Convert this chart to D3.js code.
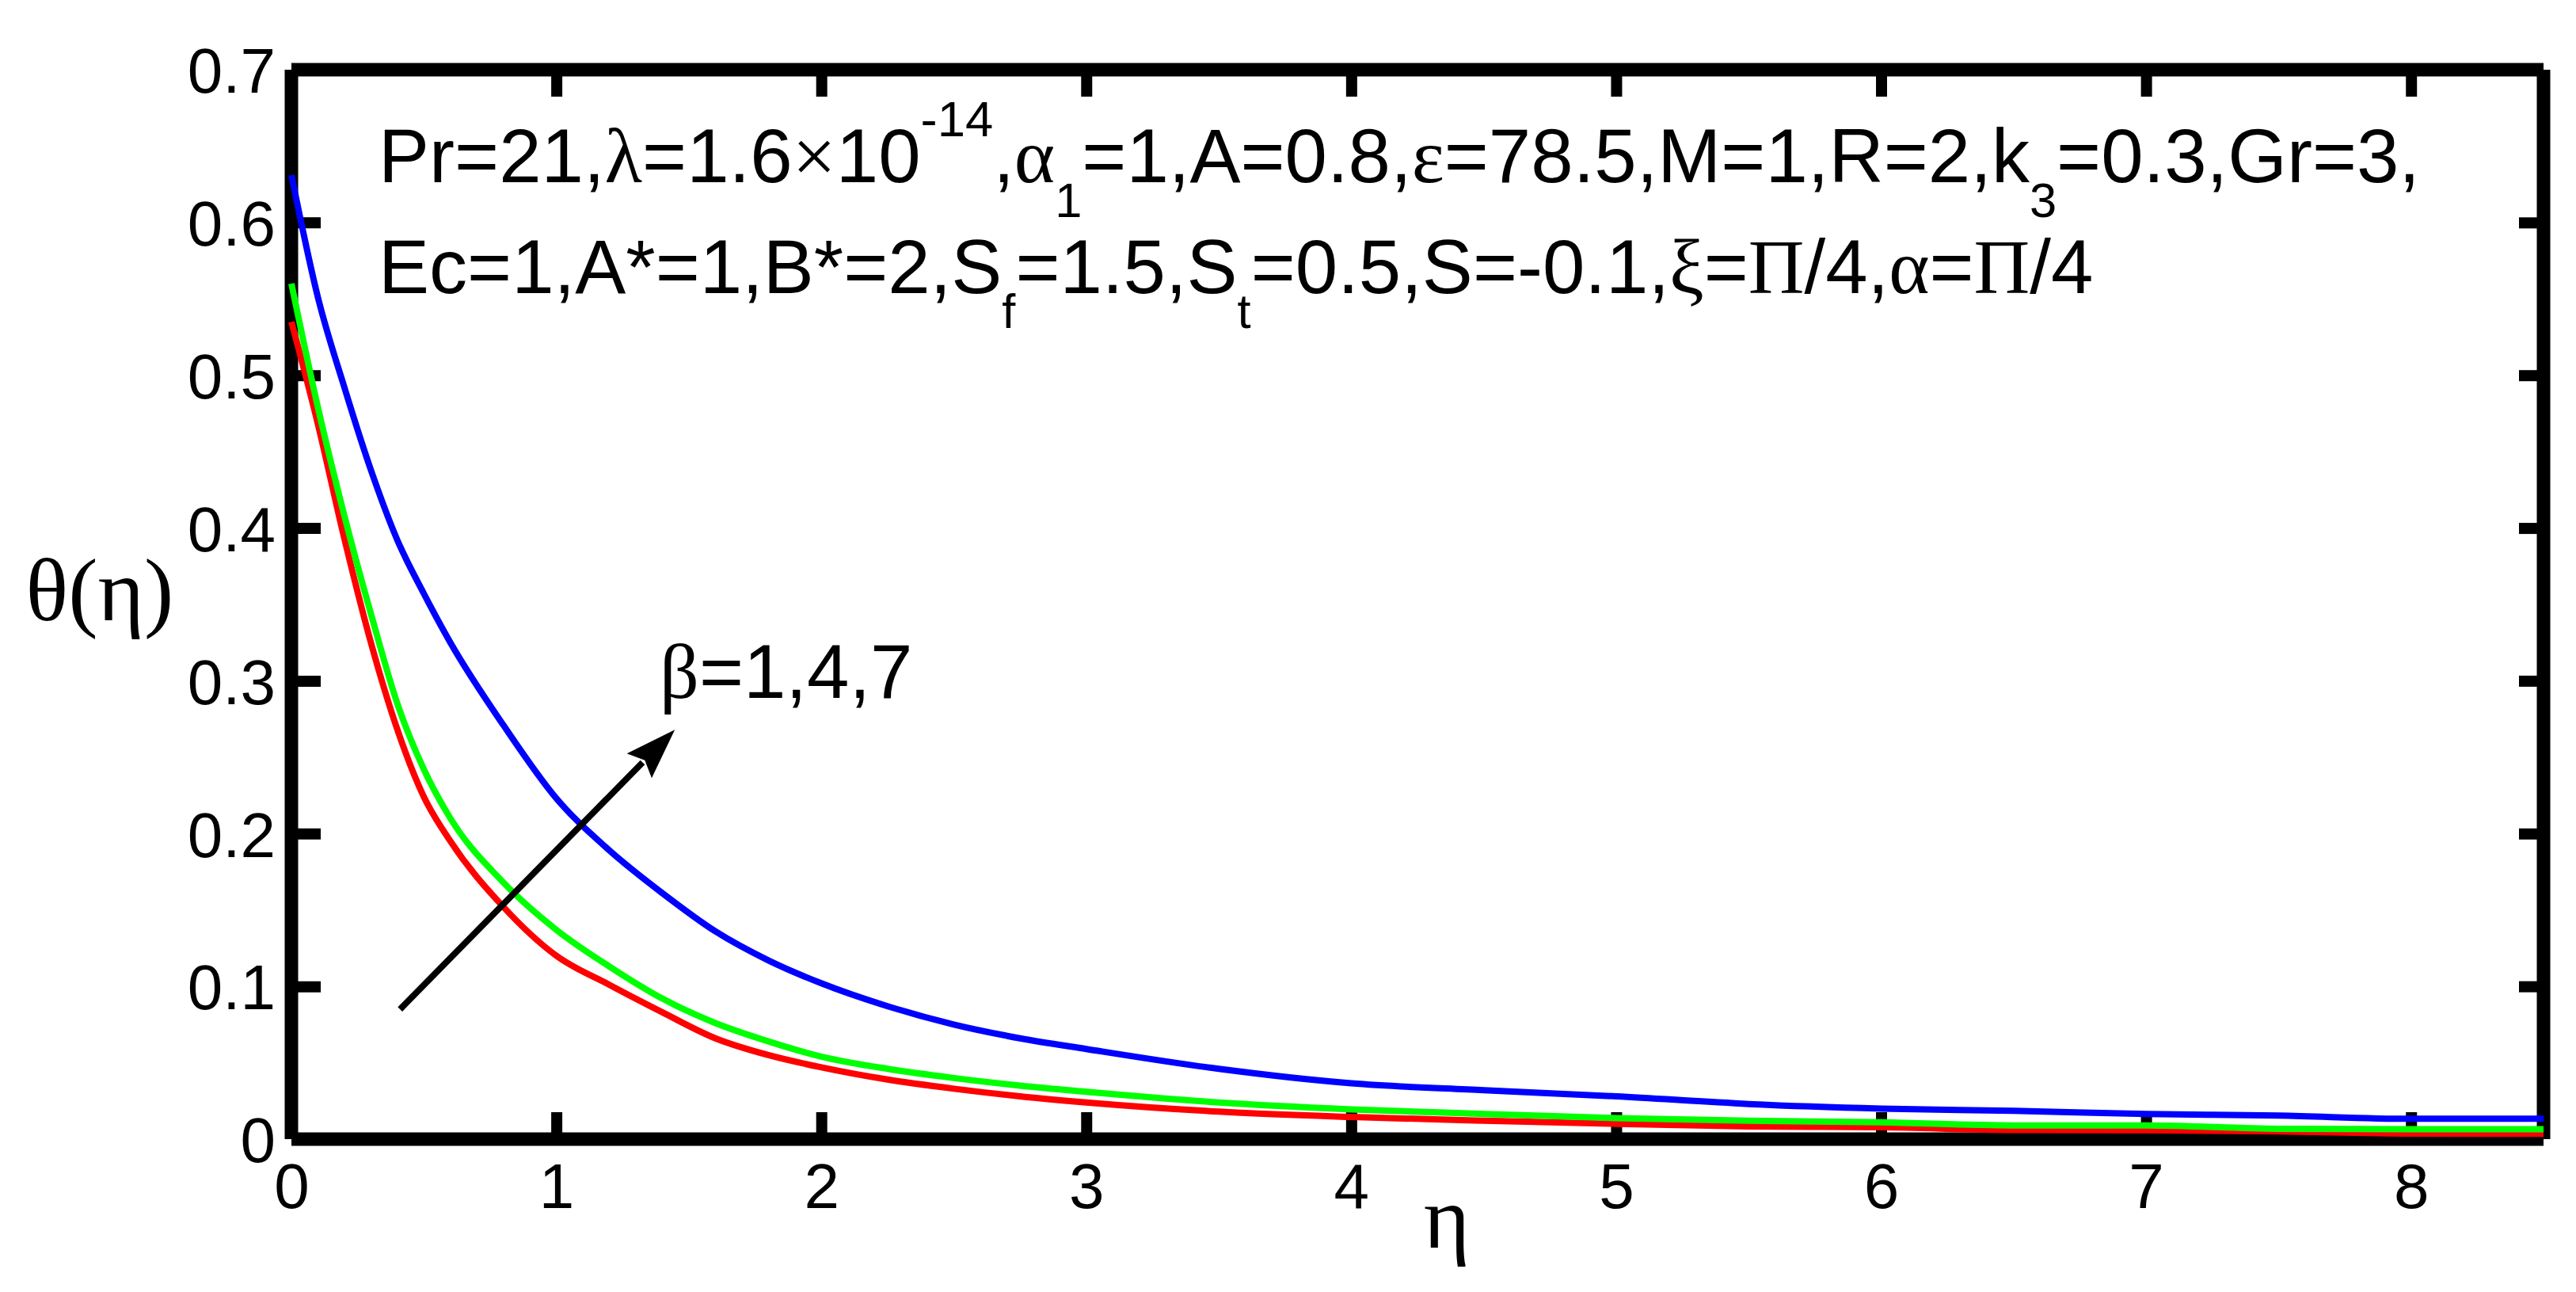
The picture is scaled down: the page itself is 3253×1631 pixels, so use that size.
<!DOCTYPE html>
<html><head><meta charset="utf-8">
<script src="https://cdn.jsdelivr.net/npm/d3@7/dist/d3.min.js"></script>
<style>body{margin:0;background:#fff;}svg{display:block;}</style>
</head><body>
<svg id="chart" width="3253" height="1631"></svg>
<script>
// ---------- data ----------
const eta = [0,0.1,0.2,0.3,0.4,0.5,0.6,0.8,1.0,1.2,1.4,1.6,1.8,2.0,2.25,2.5,2.75,3.0,3.5,4.0,4.5,5.0,5.5,6.0,6.5,7.0,7.5,8.0,8.5];
// beta = 1 (red)
const thetaBeta1 = [0.535,0.468,0.393,0.325,0.268,0.224,0.195,0.152,0.120,0.101,0.083,0.066,0.055,0.047,0.039,0.033,0.028,0.024,0.018,0.0145,0.012,0.010,0.0083,0.0078,0.006,0.0058,0.005,0.0036,0.0035];
// beta = 4 (green)
const thetaBeta4 = [0.560,0.479,0.408,0.344,0.285,0.242,0.210,0.168,0.137,0.113,0.092,0.076,0.064,0.054,0.046,0.040,0.035,0.031,0.024,0.0195,0.0165,0.0137,0.012,0.011,0.009,0.009,0.0068,0.0065,0.0065];
// beta = 7 (blue)
const thetaBeta7 = [0.631,0.551,0.492,0.438,0.392,0.357,0.325,0.271,0.223,0.189,0.161,0.136,0.117,0.102,0.087,0.075,0.066,0.059,0.046,0.0365,0.032,0.028,0.023,0.020,0.0185,0.0165,0.0154,0.0133,0.0133];

const seriesNames = ["beta1","beta4","beta7"];
const seriesColors = ["#ff0000","#00ff00","#0000ff"];

const xTicks = [0,1,2,3,4,5,6,7,8];
const xTickLabels = ["0","1","2","3","4","5","6","7","8"];
const yTicks = [0,0.1,0.2,0.3,0.4,0.5,0.6,0.7];
const yTickLabels = ["0","0.1","0.2","0.3","0.4","0.5","0.6","0.7"];

const xDomain = [0,8.5];
const yDomain = [0,0.7];

// annotation text pieces: [text, kind]  kind: s=sans, g=greek(serif), sup, sub
const line1 = [["Pr=21,","s"],["λ","g"],["=1.6","s"],["×","g"],["10","s"],["-14","sup"],[",","s"],["α","g"],["1","sub"],["=1,A=0.8,","s"],["ε","g"],["=78.5,M=1,R=2,k","s"],["3","sub"],["=0.3,Gr=3,","s"]];
const line2 = [["Ec=1,A*=1,B*=2,S","s"],["f","sub"],["=1.5,S","s"],["t","sub"],["=0.5,S=-0.1,","s"],["ξ","g"],["=","s"],["Π","g"],["/4,","s"],["α","g"],["=","s"],["Π","g"],["/4","s"]];
const betaLabel = [["β","g"],["=1,4,7","s"]];
const xLabel = "η";
const yLabel = "θ(η)";

// ---------- layout ----------
const L = 368, R = 3212, T = 88, B = 1438;
const svg = d3.select("#chart");
svg.append("rect").attr("width",3253).attr("height",1631).attr("fill","#fff");

const x = d3.scaleLinear().domain(xDomain).range([L,R]);
const y = d3.scaleLinear().domain(yDomain).range([B,T]);

const SANS = "'Liberation Sans', Arial, sans-serif";
const SERIF = "'Liberation Serif', 'Times New Roman', serif";

function styleAxis(g){
  g.select(".domain").remove();
  g.selectAll(".tick line").attr("stroke","#000").attr("stroke-width",14);
  g.selectAll(".tick text").attr("font-family",SANS).attr("font-size",80).attr("fill","#000");
}

// axes (inward ticks)
svg.append("g").attr("transform",`translate(0,${B})`)
  .call(d3.axisBottom(x).tickValues(xTicks).tickFormat((d,i)=>xTickLabels[i]).tickSize(-34).tickPadding(30))
  .call(styleAxis);
svg.append("g").attr("transform",`translate(${L},0)`)
  .call(d3.axisLeft(y).tickValues(yTicks).tickFormat((d,i)=>yTickLabels[i]).tickSize(-37).tickPadding(20))
  .call(styleAxis)
  .selectAll(".tick text").attr("dy","0.36em");
svg.append("g").attr("transform",`translate(0,${T})`)
  .call(d3.axisTop(x).tickValues(xTicks).tickFormat("").tickSize(-34))
  .call(styleAxis);
svg.append("g").attr("transform",`translate(${R},0)`)
  .call(d3.axisRight(y).tickValues(yTicks).tickFormat("").tickSize(-31))
  .call(styleAxis);

// frame
const frame = svg.append("g").attr("stroke","#000").attr("stroke-width",17).attr("stroke-linecap","butt");
frame.append("line").attr("x1",x(xDomain[0])).attr("x2",x(xDomain[1])).attr("y1",y(yDomain[1])).attr("y2",y(yDomain[1]));
frame.append("line").attr("x1",x(xDomain[0])).attr("x2",x(xDomain[1])).attr("y1",y(yDomain[0])).attr("y2",y(yDomain[0]));
frame.append("line").attr("x1",x(xDomain[0])).attr("x2",x(xDomain[0])).attr("y1",y(yDomain[1])).attr("y2",y(yDomain[0]));
frame.append("line").attr("x1",x(xDomain[1])).attr("x2",x(xDomain[1])).attr("y1",y(yDomain[1])).attr("y2",y(yDomain[0]));

// curves
const allSeries = [thetaBeta1, thetaBeta4, thetaBeta7];
const line = d3.line().x(d=>x(d[0])).y(d=>y(d[1])).curve(d3.curveMonotoneX);
allSeries.forEach((vals,i)=>{
  svg.append("path").datum(eta.map((e,j)=>[e,vals[j]]))
    .attr("class",seriesNames[i])
    .attr("fill","none").attr("stroke",seriesColors[i]).attr("stroke-width",8)
    .attr("stroke-linejoin","round").attr("d",line);
});

// rich text helper
function richText(parent, pieces, px, py, size){
  const t = parent.append("text").attr("x",px).attr("y",py).attr("font-size",size).attr("fill","#000")
    .attr("font-family",SANS).style("white-space","pre");
  let off = 0;
  pieces.forEach(([s,k])=>{
    let target = 0, fs = size, fam = SANS;
    if(k==="g"){ fam = SERIF; fs = size*1.02; }
    if(k==="sup"){ target = -size*0.6; fs = size*0.66; }
    if(k==="sub"){ target = size*0.46; fs = size*0.64; }
    t.append("tspan").attr("dy",target-off).attr("font-size",fs).attr("font-family",fam).text(s);
    off = target;
  });
  return t;
}

// parameter annotation
const annoX = x(0.329), annoY = y(0.6264);
richText(svg, line1, annoX, annoY, 96);
richText(svg, line2, annoX, annoY + 140, 96);

// arrow
const tail = [0.41,0.085], tip = [1.447,0.268];
const x0 = x(tail[0]), y0 = y(tail[1]), x1 = x(tip[0]), y1 = y(tip[1]);
const ang = Math.atan2(y1-y0, x1-x0);
const hl = 64, hw = 22;
const bx = x1 - hl*Math.cos(ang), by = y1 - hl*Math.sin(ang);
svg.append("line").attr("x1",x0).attr("y1",y0).attr("x2",bx+6*Math.cos(ang)).attr("y2",by+6*Math.sin(ang))
  .attr("stroke","#000").attr("stroke-width",8);
svg.append("path").attr("fill","#000")
  .attr("d",`M${x1},${y1}L${bx - hw*Math.sin(ang)},${by + hw*Math.cos(ang)}L${bx + 10*Math.cos(ang)},${by + 10*Math.sin(ang)}L${bx + hw*Math.sin(ang)},${by - hw*Math.cos(ang)}Z`);
richText(svg, betaLabel, x(1.39), y(0.289), 96);

// axis labels
svg.append("text").attr("x",1827).attr("y",1575).attr("text-anchor","middle")
  .attr("font-family",SERIF).attr("font-size",112).attr("fill","#000").text(xLabel);
svg.append("text").attr("x",126).attr("y",783).attr("text-anchor","middle")
  .attr("font-family",SERIF).attr("font-size",112).attr("fill","#000").text(yLabel);
</script>
</body></html>
